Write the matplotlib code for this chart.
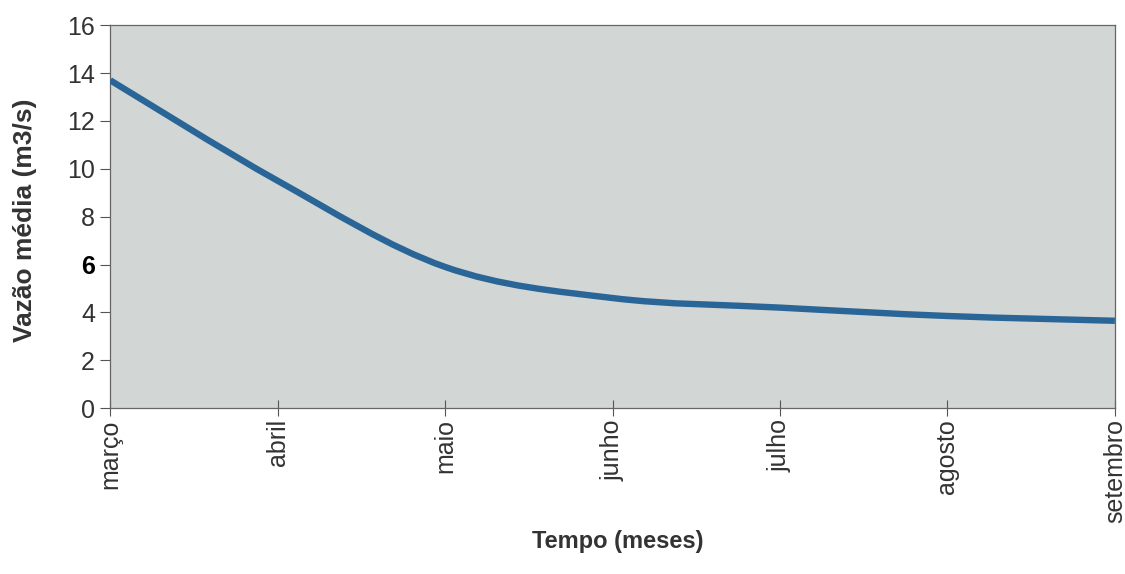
import numpy as np
import matplotlib.pyplot as plt
from matplotlib.path import Path
from matplotlib.patches import PathPatch

# ========================
# Data
# ========================
meses = ["março", "abril", "maio", "junho", "julho", "agosto", "setembro"]
vazao = [13.7, 9.5, 5.9, 4.6, 4.2, 3.85, 3.65]
y_ticks = [0, 2, 4, 6, 8, 10, 12, 14, 16]

plt.rcParams["font.family"] = ["Liberation Sans", "DejaVu Sans"]


# smoothed line like a spreadsheet chart (Catmull-Rom -> Bezier)
def smooth_path(x, y):
    x = np.asarray(x, dtype=float)
    y = np.asarray(y, dtype=float)
    px = np.concatenate([[x[0]], x, [x[-1]]])
    py = np.concatenate([[y[0]], y, [y[-1]]])
    verts = [(x[0], y[0])]
    codes = [Path.MOVETO]
    for i in range(1, len(px) - 2):
        c1 = (px[i] + (px[i + 1] - px[i - 1]) / 6, py[i] + (py[i + 1] - py[i - 1]) / 6)
        c2 = (px[i + 1] - (px[i + 2] - px[i]) / 6, py[i + 1] - (py[i + 2] - py[i]) / 6)
        verts += [c1, c2, (px[i + 1], py[i + 1])]
        codes += [Path.CURVE4] * 3
    return Path(verts, codes)


fig = plt.figure(figsize=(11.25, 5.74), dpi=100)
ax = fig.add_axes([0.098, 0.289, 0.893, 0.667])
ax.set_facecolor("#d2d6d4")

x = np.arange(len(meses))
ax.add_patch(PathPatch(smooth_path(x, vazao), facecolor="none",
                       edgecolor="#2a6597", lw=4.6, capstyle="butt", zorder=3))

ax.set_xlim(0, len(meses) - 1)
ax.set_ylim(0, 16)
ax.set_xticks(x)
ax.set_xticklabels(meses, rotation=90, fontsize=18, color="#333333")
ax.set_yticks(y_ticks)
ax.set_yticklabels([str(v) for v in y_ticks], fontsize=18, color="#333333")
for lbl in ax.get_yticklabels():
    if lbl.get_text() == "6":
        lbl.set_fontweight("bold")
        lbl.set_color("black")

ax.tick_params(axis="y", direction="out", length=7, width=0.8, color="#555555", pad=4)
ax.tick_params(axis="x", direction="inout", length=12, width=0.8, color="#555555", pad=2)
for s in ax.spines.values():
    s.set_color("#666666")
    s.set_linewidth(0.9)

fig.text(0.022, 0.617, "Vazão média (m3/s)", fontsize=19, fontweight="bold",
         color="#333333", rotation=90, ha="center", va="center")
fig.text(0.549, 0.056, "Tempo (meses)", fontsize=17, fontweight="bold",
         color="#333333", ha="center", va="center")

plt.savefig("out.png", dpi=100)
plt.close()
